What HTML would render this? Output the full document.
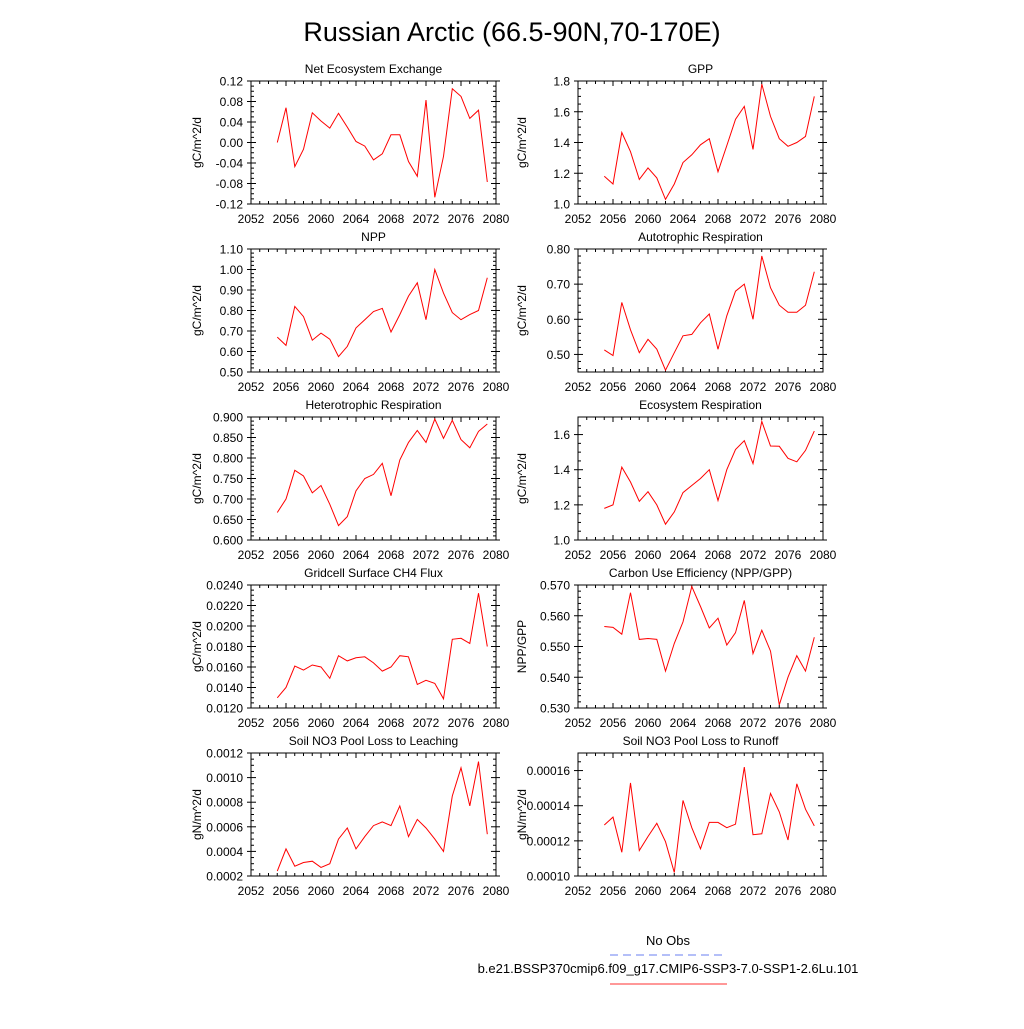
<!DOCTYPE html>
<html><head><meta charset="utf-8">
<style>
html,body{margin:0;padding:0;background:#fff;}
svg text{font-family:"Liberation Sans",sans-serif;fill:#000;}
</style></head>
<body>
<svg id="chart" width="1024" height="1024" xmlns="http://www.w3.org/2000/svg">
<text x="512" y="41" font-size="27" text-anchor="middle">Russian Arctic (66.5-90N,70-170E)</text>
<g id="panels"></g>
<g>
<text x="668" y="945" font-size="13" text-anchor="middle">No Obs</text>
<line x1="610" y1="955" x2="727" y2="955" stroke="#6a7ff0" stroke-width="1" stroke-dasharray="8,5"/>
<text x="668" y="973" font-size="13" text-anchor="middle">b.e21.BSSP370cmip6.f09_g17.CMIP6-SSP3-7.0-SSP1-2.6Lu.101</text>
<line x1="610" y1="984" x2="727" y2="984" stroke="#ff3030" stroke-width="1"/>
</g>
</svg>
<script>
const years = [2055,2056,2057,2058,2059,2060,2061,2062,2063,2064,2065,2066,2067,2068,2069,2070,2071,2072,2073,2074,2075,2076,2077,2078,2079];
const xTicks = [2052,2056,2060,2064,2068,2072,2076,2080];
const neeValues = [0.0,0.068,-0.047,-0.013,0.058,0.042,0.028,0.057,0.030,0.002,-0.007,-0.034,-0.022,0.015,0.015,-0.037,-0.066,0.083,-0.107,-0.027,0.105,0.090,0.047,0.063,-0.077];
const neeTicks = ["-0.12","-0.08","-0.04","0.00","0.04","0.08","0.12"];
const gppValues = [1.18,1.13,1.465,1.34,1.16,1.235,1.17,1.03,1.13,1.27,1.32,1.385,1.425,1.21,1.38,1.55,1.635,1.355,1.78,1.57,1.425,1.375,1.40,1.44,1.70];
const gppTicks = ["1.0","1.2","1.4","1.6","1.8"];
const nppValues = [0.67,0.63,0.82,0.77,0.655,0.69,0.66,0.575,0.625,0.715,0.755,0.795,0.81,0.695,0.78,0.87,0.935,0.755,1.0,0.885,0.79,0.755,0.78,0.80,0.96];
const nppTicks = ["0.50","0.60","0.70","0.80","0.90","1.00","1.10"];
const arValues = [0.513,0.497,0.648,0.57,0.505,0.543,0.515,0.455,0.505,0.553,0.557,0.59,0.615,0.515,0.61,0.68,0.70,0.60,0.78,0.69,0.64,0.62,0.62,0.64,0.735];
const arTicks = ["0.50","0.60","0.70","0.80"];
const hrValues = [0.667,0.70,0.77,0.756,0.715,0.733,0.687,0.635,0.657,0.72,0.75,0.76,0.787,0.708,0.795,0.838,0.867,0.838,0.895,0.848,0.892,0.845,0.825,0.865,0.883];
const hrTicks = ["0.600","0.650","0.700","0.750","0.800","0.850","0.900"];
const erValues = [1.18,1.20,1.415,1.33,1.22,1.275,1.20,1.09,1.16,1.27,1.31,1.35,1.40,1.225,1.40,1.515,1.565,1.435,1.675,1.535,1.533,1.465,1.445,1.51,1.62];
const erTicks = ["1.0","1.2","1.4","1.6"];
const ch4Values = [0.0130,0.0140,0.0161,0.0157,0.0162,0.0160,0.0149,0.0171,0.0166,0.0169,0.0170,0.0164,0.0156,0.0160,0.0171,0.0170,0.0143,0.0147,0.0144,0.0129,0.0187,0.0188,0.0183,0.0232,0.0180];
const ch4Ticks = ["0.0120","0.0140","0.0160","0.0180","0.0200","0.0220","0.0240"];
const cueValues = [0.5565,0.5562,0.554,0.5675,0.5523,0.5526,0.5523,0.542,0.551,0.558,0.5695,0.563,0.556,0.5592,0.5505,0.5545,0.565,0.5477,0.5553,0.5485,0.531,0.540,0.547,0.542,0.553];
const cueTicks = ["0.530","0.540","0.550","0.560","0.570"];
const leachValues = [0.00024,0.00042,0.00028,0.00031,0.00032,0.00027,0.00030,0.00050,0.00059,0.00042,0.00052,0.00061,0.00064,0.00061,0.00077,0.00052,0.00066,0.00059,0.00050,0.00040,0.00085,0.00108,0.00077,0.00113,0.00054];
const leachTicks = ["0.0002","0.0004","0.0006","0.0008","0.0010","0.0012"];
const runoffValues = [0.000129,0.0001335,0.0001135,0.000153,0.0001145,0.0001225,0.00013,0.0001195,0.000102,0.000143,0.0001275,0.0001155,0.0001305,0.0001305,0.0001275,0.0001295,0.000162,0.0001235,0.000124,0.000147,0.0001365,0.0001205,0.0001525,0.000138,0.0001285];
const runoffTicks = ["0.00010","0.00012","0.00014","0.00016"];

const panels = [
 {name:"nee",title:"Net Ecosystem Exchange",ylab:"gC/m^2/d",vals:neeValues,ticks:neeTicks,min:-0.12,max:0.12,minor:4,col:0,row:0},
 {name:"gpp",title:"GPP",ylab:"gC/m^2/d",vals:gppValues,ticks:gppTicks,min:1.0,max:1.8,minor:4,col:1,row:0},
 {name:"npp",title:"NPP",ylab:"gC/m^2/d",vals:nppValues,ticks:nppTicks,min:0.5,max:1.1,minor:5,col:0,row:1},
 {name:"ar",title:"Autotrophic Respiration",ylab:"gC/m^2/d",vals:arValues,ticks:arTicks,min:0.45,max:0.8,minor:5,col:1,row:1},
 {name:"hr",title:"Heterotrophic Respiration",ylab:"gC/m^2/d",vals:hrValues,ticks:hrTicks,min:0.6,max:0.9,minor:5,col:0,row:2},
 {name:"er",title:"Ecosystem Respiration",ylab:"gC/m^2/d",vals:erValues,ticks:erTicks,min:1.0,max:1.7,minor:4,col:1,row:2},
 {name:"ch4",title:"Gridcell Surface CH4 Flux",ylab:"gC/m^2/d",vals:ch4Values,ticks:ch4Ticks,min:0.012,max:0.024,minor:4,col:0,row:3},
 {name:"cue",title:"Carbon Use Efficiency (NPP/GPP)",ylab:"NPP/GPP",vals:cueValues,ticks:cueTicks,min:0.53,max:0.57,minor:5,col:1,row:3},
 {name:"leach",title:"Soil NO3 Pool Loss to Leaching",ylab:"gN/m^2/d",vals:leachValues,ticks:leachTicks,min:0.0002,max:0.0012,minor:4,col:0,row:4},
 {name:"runoff",title:"Soil NO3 Pool Loss to Runoff",ylab:"gN/m^2/d",vals:runoffValues,ticks:runoffTicks,min:0.0001,max:0.00017,minor:4,col:1,row:4}
];
const NS="http://www.w3.org/2000/svg";
const root=document.getElementById('panels');
function mk(tag,attrs,parent){const e=document.createElementNS(NS,tag);for(const k in attrs)e.setAttribute(k,attrs[k]);parent.appendChild(e);return e;}
const colX=[251,578], W=245, rowY=[81,249,417,585,753], H=123;
panels.forEach(p=>{
  const L=colX[p.col], T=rowY[p.row], R=L+W, B=T+H;
  const g=mk('g',{},root);
  
  
  const xs=v=>L+(v-2052)/(2080-2052)*W;
  const ys=v=>B-(v-p.min)/(p.max-p.min)*H;
  const box=mk('rect',{x:L,y:T,width:W,height:H,fill:'none',stroke:'#000','stroke-width':1},g);
  
  
  // x ticks
  xTicks.forEach((t,i)=>{
    const x=xs(t);
    mk('line',{x1:x,y1:B,x2:x,y2:B-5,stroke:'#000'},g);
    mk('line',{x1:x,y1:T,x2:x,y2:T+5,stroke:'#000'},g);
    const lbl=mk('text',{x:x,y:B+19,'font-size':12,'text-anchor':'middle'},g);
    lbl.textContent=t;
    
    
    if(i<xTicks.length-1){for(let m=1;m<4;m++){const xm=xs(t+m);mk('line',{x1:xm,y1:B,x2:xm,y2:B-3,stroke:'#000'},g);mk('line',{x1:xm,y1:T,x2:xm,y2:T+3,stroke:'#000'},g);}}
  });
  // y ticks
  const tv=p.ticks.map(Number);
  const step=tv.length>1?tv[1]-tv[0]:1;
  tv.forEach(v=>{
    const y=ys(v);
    mk('line',{x1:L-4,y1:y,x2:L+5,y2:y,stroke:'#000'},g);
    mk('line',{x1:R+4,y1:y,x2:R-5,y2:y,stroke:'#000'},g);
    const lbl=mk('text',{x:L-8,y:y+4.5,'font-size':12,'text-anchor':'end'},g);
    lbl.textContent=p.ticks[tv.indexOf(v)];
    
    
  });
  for(let v=tv[0]-step;v<p.max+step;v+=step){
    for(let m=1;m<p.minor;m++){const vm=v+m*step/p.minor;if(vm<=p.min||vm>=p.max)continue;const y=ys(vm);
      mk('line',{x1:L,y1:y,x2:L+3,y2:y,stroke:'#000'},g);mk('line',{x1:R,y1:y,x2:R-3,y2:y,stroke:'#000'},g);}
  }
  const title=mk('text',{x:(L+R)/2,y:T-8,'font-size':12,'text-anchor':'middle'},g);
  title.textContent=p.title;
  
  
  const yl=L-(p.col===0?50:52);
  const ylab=mk('text',{x:yl,y:(T+B)/2,'font-size':12,'text-anchor':'middle',transform:'rotate(-90 '+yl+' '+((T+B)/2)+')'},g);
  ylab.textContent=p.ylab;
  
  
  const pts=p.vals.map((v,i)=>xs(years[i]).toFixed(1)+','+ys(v).toFixed(1)).join(' ');
  const line=mk('polyline',{points:pts,fill:'none',stroke:'#ff0000','stroke-width':1},g);
  
  
});
</script>
</body></html>
